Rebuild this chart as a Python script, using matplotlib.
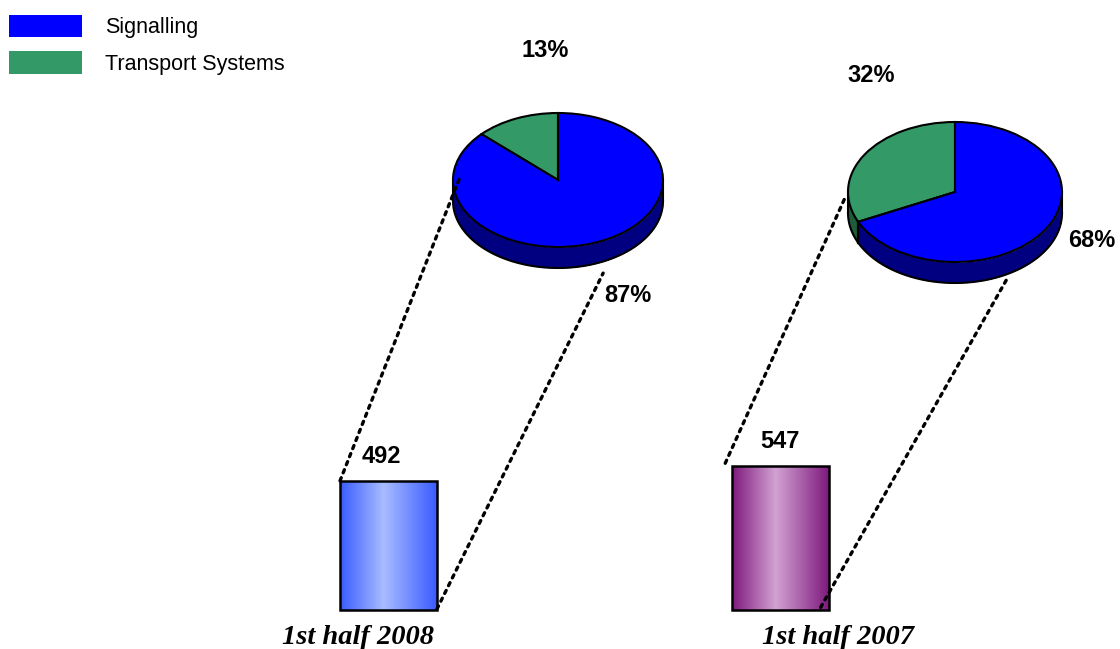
# Orders by segment: two bars with exploded pies

import numpy as np
import matplotlib
matplotlib.use('Agg')
import matplotlib.pyplot as plt
from matplotlib.colors import LinearSegmentedColormap
from matplotlib.patches import Patch, ConnectionPatch

plt.rcParams['font.family'] = ['Liberation Sans', 'DejaVu Sans']

# data
periods = ['1st half 2008', '1st half 2007']
totals = [492, 547]
segments = ['Signalling', 'Transport Systems']
share_2008 = [87, 13]
share_2007 = [68, 32]

top_colors = {'Signalling': '#0000FF', 'Transport Systems': '#339966'}
side_colors = {'Signalling': '#000080', 'Transport Systems': '#1E5C3A'}
bar_grad = [['#3A5CFF', '#A8BCFF', '#3A5CFF'], ['#7E1A7E', '#D2A2D2', '#7E1A7E']]

W, H = 1120, 649
PT = 72 / 100  # points per pixel
fig = plt.figure(figsize=(W / 100, H / 100), dpi=100)

# bar axes covering the whole figure
ax = fig.add_axes([0, 0, 1, 1])
px_per_unit = 0.2625
spacing = 391.5
ax.set_xlim(-388.5 / spacing, (W - 388.5) / spacing)
ax.set_ylim(-(H - 610) / px_per_unit, 610 / px_per_unit)
ax.axis('off')

x = np.arange(len(periods))
bars = ax.bar(x, totals, width=97 / spacing, color='none', edgecolor='black',
              linewidth=1.8, zorder=3)
for b, cols in zip(bars, bar_grad):
    cmap = LinearSegmentedColormap.from_list('g', list(zip([0, 0.45, 1], cols)))
    grad = np.linspace(0, 1, 200).reshape(1, -1)
    im = ax.imshow(grad, cmap=cmap, aspect='auto', zorder=2,
                   extent=(b.get_x(), b.get_x() + b.get_width(), 0, b.get_height()))
    im.set_clip_path(b)

value_dx = [-7.5, 0]
for b, v, dx in zip(bars, totals, value_dx):
    ax.annotate(str(v), (b.get_x() + b.get_width() / 2, v), xytext=(dx * PT, 24.5 * PT),
                textcoords='offset points', ha='center', va='center',
                fontsize=17, fontweight='bold')

label_dx = [-30.5, 58]
for xi, name, dx in zip(x, periods, label_dx):
    ax.annotate(name, (xi, 0), xytext=(dx * PT, -27 * PT), textcoords='offset points',
                ha='center', va='center', fontsize=20.5, fontweight='bold',
                fontstyle='italic', family='Liberation Serif')


def pie_axes(cx, cy, rx, ry, depth):
    d = depth / ry
    m = 1.25
    wpx, hpx = 2 * m * rx, (2 * m + d) * ry
    left, top = cx - m * rx, cy - m * ry
    pax = fig.add_axes([left / W, (H - top - hpx) / H, wpx / W, hpx / H])
    return pax, d, m


def draw_pie(pax, d, m, shares, labels_xy):
    vals = [shares[1], shares[0]]
    names = [segments[1], segments[0]]
    wedges, _ = pax.pie(vals, colors=[top_colors[n] for n in names], startangle=90,
                        counterclock=True,
                        wedgeprops=dict(edgecolor='black', linewidth=1.5))
    pax.set_aspect('auto')
    pax.set_xlim(-m, m)
    pax.set_ylim(-m - d, m)
    pax.axis('off')
    # side wall of the front half
    for w, n in zip(wedges, names):
        for lo, hi in [(180, 360), (540, 720)]:
            t1, t2 = max(w.theta1, lo), min(w.theta2, hi)
            if t2 <= t1:
                continue
            t = np.radians(np.linspace(t1, t2, 200))
            pax.fill_between(np.cos(t), np.sin(t) - d, np.sin(t),
                             color=side_colors[n], linewidth=0, zorder=0.5)
            pax.plot(np.cos(t), np.sin(t) - d, color='black', lw=1.5, zorder=0.6)
            for tt in (t[0], t[-1]):
                pax.plot([np.cos(tt)] * 2, [np.sin(tt), np.sin(tt) - d],
                         color='black', lw=1.5, zorder=0.6)
    for v, (lx, ly) in zip(vals, labels_xy):
        pax.text(lx, ly, f'{v}%', ha='center', va='center', fontsize=17,
                 fontweight='bold', clip_on=False)


pax1, d1, m1 = pie_axes(558, 180, 105, 67, 21)
draw_pie(pax1, d1, m1, share_2008, [(-0.12, 1.94), (0.67, -1.73)])
pax2, d2, m2 = pie_axes(955, 192, 107, 70, 21)
draw_pie(pax2, d2, m2, share_2007, [(-0.78, 1.67), (1.28, -0.69)])

# dotted connectors from bars to pies
dots = dict(linestyle=(0, (1, 1.6)), linewidth=2.4, color='black', zorder=5)
conns = [
    ((bars[0].get_x(), totals[0]), pax1, (-0.93, 0.06)),
    ((bars[0].get_x() + bars[0].get_width(), 4), pax1, (0.43, -1.39)),
    ((bars[1].get_x() - 0.016, totals[1] + 12), pax2, (-1.03, -0.09)),
    ((bars[1].get_x() + bars[1].get_width() - 0.02, 10), pax2, (0.49, -1.23)),
]
for xyA, pax, xyB in conns:
    fig.add_artist(ConnectionPatch(xyA=xyA, coordsA=ax.transData, xyB=xyB,
                                   coordsB=pax.transData, **dots))

handles = [Patch(facecolor=top_colors[s]) for s in segments]
fs = 15.5
fpx = fs / PT
fig.legend(handles, segments, loc='upper left', bbox_to_anchor=(9 / W, 1 - 15 / H),
           frameon=False, fontsize=fs, handlelength=73 / fpx, handleheight=26 / fpx,
           handletextpad=23 / fpx, labelspacing=(39 - 26) / fpx, borderpad=0,
           borderaxespad=0)

fig.savefig('out.png', dpi=100)
